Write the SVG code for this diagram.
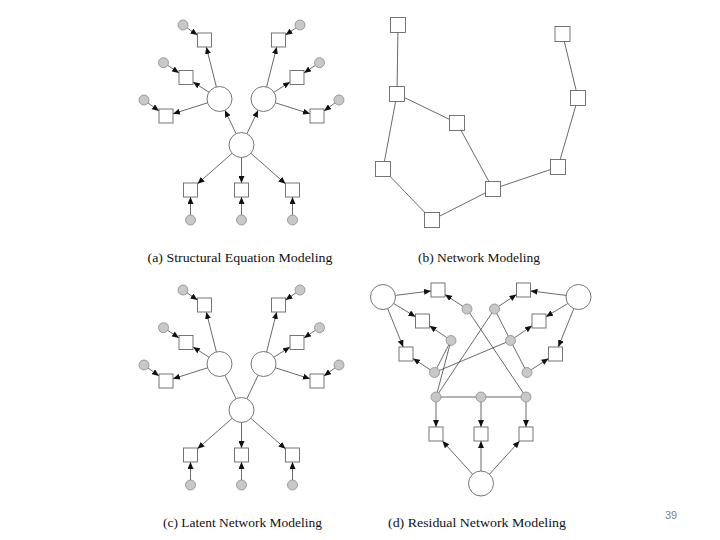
<svg xmlns="http://www.w3.org/2000/svg" width="720" height="540" viewBox="0 0 720 540">
<style>
.e{stroke:#444;stroke-width:0.8;fill:none}
.a{stroke:#444;stroke-width:0.8;fill:none;marker-end:url(#ah)}
.sq{fill:#fff;stroke:#666;stroke-width:0.9}
.lat{fill:#fff;stroke:#666;stroke-width:0.9}
.res{fill:#c8c8c8;stroke:#8a8a8a;stroke-width:0.8}
.cap{font-family:"Liberation Serif","DejaVu Serif",serif;font-size:12px;fill:#111}
</style>
<defs>
<marker id="ah" markerWidth="8" markerHeight="6" refX="7" refY="3" orient="auto" markerUnits="userSpaceOnUse">
<path d="M0,0 L7,3 L0,6 Z" fill="#111"/>
</marker>
</defs>
<rect width="720" height="540" fill="#fff"/>
<g id="connectors">
<g id="conn-a">
<line class="a" x1="187.1" y1="27.9" x2="197.5" y2="35.1"/>
<line class="a" x1="167.7" y1="65.4" x2="179" y2="72.9"/>
<line class="a" x1="148" y1="102.9" x2="159" y2="110.9"/>
<line class="a" x1="295.9" y1="27.9" x2="285.5" y2="35.1"/>
<line class="a" x1="315.3" y1="65.4" x2="304" y2="72.9"/>
<line class="a" x1="335" y1="102.9" x2="324" y2="110.9"/>
<line class="a" x1="216.4" y1="86.9" x2="206.3" y2="47"/>
<line class="a" x1="209" y1="92.2" x2="193" y2="82"/>
<line class="a" x1="207.6" y1="102.8" x2="173" y2="113.8"/>
<line class="a" x1="266.6" y1="86.9" x2="276.7" y2="47"/>
<line class="a" x1="274" y1="92.2" x2="290" y2="82"/>
<line class="a" x1="275.4" y1="102.8" x2="310" y2="113.8"/>
<line class="a" x1="236.1" y1="133.7" x2="224.9" y2="110.3"/>
<line class="a" x1="246.9" y1="133.7" x2="258.1" y2="110.3"/>
<line class="a" x1="232.1" y1="153.3" x2="197.5" y2="183.8"/>
<line class="a" x1="241.5" y1="157.5" x2="241.5" y2="183"/>
<line class="a" x1="250.9" y1="153.3" x2="285.5" y2="183.8"/>
<line class="a" x1="190.5" y1="215" x2="190.5" y2="197"/>
<line class="a" x1="241.5" y1="215" x2="241.5" y2="197"/>
<line class="a" x1="292.5" y1="215" x2="292.5" y2="197"/>
</g>
<g id="conn-b">
<line class="e" x1="398" y1="25" x2="397" y2="94"/>
<line class="e" x1="397" y1="94" x2="457" y2="123"/>
<line class="e" x1="397" y1="94" x2="383" y2="169"/>
<line class="e" x1="383" y1="169" x2="432" y2="220"/>
<line class="e" x1="432" y1="220" x2="493" y2="189"/>
<line class="e" x1="457" y1="123" x2="493" y2="189"/>
<line class="e" x1="493" y1="189" x2="558" y2="167"/>
<line class="e" x1="558" y1="167" x2="578" y2="98"/>
<line class="e" x1="578" y1="98" x2="562.5" y2="34"/>
</g>
<g id="conn-c">
<line class="a" x1="187.1" y1="292.9" x2="197.5" y2="300.1"/>
<line class="a" x1="167.7" y1="330.4" x2="179" y2="337.9"/>
<line class="a" x1="148" y1="367.9" x2="159" y2="375.9"/>
<line class="a" x1="295.9" y1="292.9" x2="285.5" y2="300.1"/>
<line class="a" x1="315.3" y1="330.4" x2="304" y2="337.9"/>
<line class="a" x1="335" y1="367.9" x2="324" y2="375.9"/>
<line class="a" x1="216.4" y1="351.9" x2="206.3" y2="312"/>
<line class="a" x1="209" y1="357.2" x2="193" y2="347"/>
<line class="a" x1="207.6" y1="367.8" x2="173" y2="378.8"/>
<line class="a" x1="266.6" y1="351.9" x2="276.7" y2="312"/>
<line class="a" x1="274" y1="357.2" x2="290" y2="347"/>
<line class="a" x1="275.4" y1="367.8" x2="310" y2="378.8"/>
<line class="e" x1="236.1" y1="398.7" x2="224.9" y2="375.3"/>
<line class="e" x1="246.9" y1="398.7" x2="258.1" y2="375.3"/>
<line class="a" x1="232.1" y1="418.3" x2="197.5" y2="448.8"/>
<line class="a" x1="241.5" y1="422.5" x2="241.5" y2="448"/>
<line class="a" x1="250.9" y1="418.3" x2="285.5" y2="448.8"/>
<line class="a" x1="190.5" y1="480" x2="190.5" y2="462"/>
<line class="a" x1="241.5" y1="480" x2="241.5" y2="462"/>
<line class="a" x1="292.5" y1="480" x2="292.5" y2="462"/>
</g>
<g id="conn-d">
<line class="a" x1="395.4" y1="295.4" x2="431" y2="290.9"/>
<line class="a" x1="393.7" y1="303.5" x2="415.5" y2="316.7"/>
<line class="a" x1="387.7" y1="308.6" x2="403.2" y2="347"/>
<line class="a" x1="566.1" y1="295.4" x2="530.5" y2="290.9"/>
<line class="a" x1="567.8" y1="303.5" x2="546" y2="316.7"/>
<line class="a" x1="573.8" y1="308.6" x2="558.3" y2="347"/>
<line class="a" x1="462.8" y1="306.3" x2="445" y2="294.6"/>
<line class="a" x1="498.7" y1="306.3" x2="516.5" y2="294.6"/>
<line class="a" x1="446.9" y1="337.7" x2="429.5" y2="325.8"/>
<line class="a" x1="514.6" y1="337.7" x2="532" y2="325.8"/>
<line class="a" x1="430.3" y1="369.8" x2="413" y2="358.5"/>
<line class="a" x1="531.2" y1="369.8" x2="548.5" y2="358.5"/>
<line class="a" x1="436" y1="402" x2="436" y2="427"/>
<line class="a" x1="481" y1="402" x2="481" y2="427"/>
<line class="a" x1="526" y1="402" x2="526" y2="427"/>
<line class="a" x1="472.6" y1="474.3" x2="442.4" y2="441"/>
<line class="a" x1="481" y1="471" x2="481" y2="441"/>
<line class="a" x1="489.4" y1="474.3" x2="519.6" y2="441"/>
<line class="e" x1="467" y1="309" x2="526" y2="397"/>
<line class="e" x1="494.5" y1="309" x2="436" y2="397"/>
<line class="e" x1="494.5" y1="309" x2="510.5" y2="340.5"/>
<line class="e" x1="510.5" y1="340.5" x2="527" y2="372.5"/>
<line class="e" x1="510.5" y1="340.5" x2="434.5" y2="372.5"/>
<line class="e" x1="451" y1="340.5" x2="434.5" y2="372.5"/>
<line class="e" x1="451" y1="340.5" x2="436" y2="397"/>
<line class="e" x1="436" y1="397" x2="481" y2="397"/>
<line class="e" x1="481" y1="397" x2="526" y2="397"/>
</g>
</g>
<g id="nodes-a">
<g id="a-L"><circle class="lat" cx="219.5" cy="99" r="12.5"/></g>
<g id="a-R"><circle class="lat" cx="263.5" cy="99" r="12.5"/></g>
<g id="a-C"><circle class="lat" cx="241.5" cy="145" r="12.5"/></g>
<g id="a-s1"><rect class="sq" x="197.5" y="33" width="14" height="14"/></g>
<g id="a-s2"><rect class="sq" x="179" y="70.5" width="14" height="14"/></g>
<g id="a-s3"><rect class="sq" x="159" y="109" width="14" height="14"/></g>
<g id="a-s4"><rect class="sq" x="271.5" y="33" width="14" height="14"/></g>
<g id="a-s5"><rect class="sq" x="290" y="70.5" width="14" height="14"/></g>
<g id="a-s6"><rect class="sq" x="310" y="109" width="14" height="14"/></g>
<g id="a-s7"><rect class="sq" x="183.5" y="183" width="14" height="14"/></g>
<g id="a-s8"><rect class="sq" x="234.5" y="183" width="14" height="14"/></g>
<g id="a-s9"><rect class="sq" x="285.5" y="183" width="14" height="14"/></g>
<g id="a-e1"><circle class="res" cx="183" cy="25" r="5"/></g>
<g id="a-e2"><circle class="res" cx="163.5" cy="62.7" r="5"/></g>
<g id="a-e3"><circle class="res" cx="144" cy="100" r="5"/></g>
<g id="a-e4"><circle class="res" cx="300" cy="25" r="5"/></g>
<g id="a-e5"><circle class="res" cx="319.5" cy="62.7" r="5"/></g>
<g id="a-e6"><circle class="res" cx="339" cy="100" r="5"/></g>
<g id="a-e7"><circle class="res" cx="190.5" cy="220" r="5"/></g>
<g id="a-e8"><circle class="res" cx="241.5" cy="220" r="5"/></g>
<g id="a-e9"><circle class="res" cx="292.5" cy="220" r="5"/></g>
</g>
<g id="nodes-b">
<g id="b-1"><rect class="sq" x="390.5" y="17.5" width="15" height="15"/></g>
<g id="b-2"><rect class="sq" x="389.5" y="86.5" width="15" height="15"/></g>
<g id="b-3"><rect class="sq" x="449.5" y="115.5" width="15" height="15"/></g>
<g id="b-4"><rect class="sq" x="375.5" y="161.5" width="15" height="15"/></g>
<g id="b-5"><rect class="sq" x="424.5" y="212.5" width="15" height="15"/></g>
<g id="b-6"><rect class="sq" x="485.5" y="181.5" width="15" height="15"/></g>
<g id="b-7"><rect class="sq" x="550.5" y="159.5" width="15" height="15"/></g>
<g id="b-8"><rect class="sq" x="570.5" y="90.5" width="15" height="15"/></g>
<g id="b-9"><rect class="sq" x="555" y="26.5" width="15" height="15"/></g>
</g>
<g id="nodes-c">
<g id="c-L"><circle class="lat" cx="219.5" cy="364" r="12.5"/></g>
<g id="c-R"><circle class="lat" cx="263.5" cy="364" r="12.5"/></g>
<g id="c-C"><circle class="lat" cx="241.5" cy="410" r="12.5"/></g>
<g id="c-s1"><rect class="sq" x="197.5" y="298" width="14" height="14"/></g>
<g id="c-s2"><rect class="sq" x="179" y="335.5" width="14" height="14"/></g>
<g id="c-s3"><rect class="sq" x="159" y="374" width="14" height="14"/></g>
<g id="c-s4"><rect class="sq" x="271.5" y="298" width="14" height="14"/></g>
<g id="c-s5"><rect class="sq" x="290" y="335.5" width="14" height="14"/></g>
<g id="c-s6"><rect class="sq" x="310" y="374" width="14" height="14"/></g>
<g id="c-s7"><rect class="sq" x="183.5" y="448" width="14" height="14"/></g>
<g id="c-s8"><rect class="sq" x="234.5" y="448" width="14" height="14"/></g>
<g id="c-s9"><rect class="sq" x="285.5" y="448" width="14" height="14"/></g>
<g id="c-e1"><circle class="res" cx="183" cy="290" r="5"/></g>
<g id="c-e2"><circle class="res" cx="163.5" cy="327.7" r="5"/></g>
<g id="c-e3"><circle class="res" cx="144" cy="365" r="5"/></g>
<g id="c-e4"><circle class="res" cx="300" cy="290" r="5"/></g>
<g id="c-e5"><circle class="res" cx="319.5" cy="327.7" r="5"/></g>
<g id="c-e6"><circle class="res" cx="339" cy="365" r="5"/></g>
<g id="c-e7"><circle class="res" cx="190.5" cy="485" r="5"/></g>
<g id="c-e8"><circle class="res" cx="241.5" cy="485" r="5"/></g>
<g id="c-e9"><circle class="res" cx="292.5" cy="485" r="5"/></g>
</g>
<g id="nodes-d">
<g id="d-L"><circle class="lat" cx="383" cy="297" r="12.5"/></g>
<g id="d-R"><circle class="lat" cx="578.5" cy="297" r="12.5"/></g>
<g id="d-B"><circle class="lat" cx="481" cy="483.5" r="12.5"/></g>
<g id="d-s1"><rect class="sq" x="431" y="283" width="14" height="14"/></g>
<g id="d-s2"><rect class="sq" x="516.5" y="283" width="14" height="14"/></g>
<g id="d-s3"><rect class="sq" x="415.5" y="314" width="14" height="14"/></g>
<g id="d-s4"><rect class="sq" x="532" y="314" width="14" height="14"/></g>
<g id="d-s5"><rect class="sq" x="399" y="347" width="14" height="14"/></g>
<g id="d-s6"><rect class="sq" x="548.5" y="347" width="14" height="14"/></g>
<g id="d-s7"><rect class="sq" x="429" y="427" width="14" height="14"/></g>
<g id="d-s8"><rect class="sq" x="474" y="427" width="14" height="14"/></g>
<g id="d-s9"><rect class="sq" x="519" y="427" width="14" height="14"/></g>
<g id="d-e1"><circle class="res" cx="467" cy="309" r="5"/></g>
<g id="d-e2"><circle class="res" cx="494.5" cy="309" r="5"/></g>
<g id="d-e3"><circle class="res" cx="451" cy="340.5" r="5"/></g>
<g id="d-e4"><circle class="res" cx="510.5" cy="340.5" r="5"/></g>
<g id="d-e5"><circle class="res" cx="434.5" cy="372.5" r="5"/></g>
<g id="d-e6"><circle class="res" cx="527" cy="372.5" r="5"/></g>
<g id="d-e7"><circle class="res" cx="436" cy="397" r="5"/></g>
<g id="d-e8"><circle class="res" cx="481" cy="397" r="5"/></g>
<g id="d-e9"><circle class="res" cx="526" cy="397" r="5"/></g>
</g>
<g id="captions">
<text class="cap" x="147.5" y="262" textLength="185" lengthAdjust="spacingAndGlyphs">(a) Structural Equation Modeling</text>
<text class="cap" x="418" y="262" textLength="122" lengthAdjust="spacingAndGlyphs">(b) Network Modeling</text>
<text class="cap" x="163" y="527" textLength="159" lengthAdjust="spacingAndGlyphs">(c) Latent Network Modeling</text>
<text class="cap" x="388" y="527" textLength="178" lengthAdjust="spacingAndGlyphs">(d) Residual Network Modeling</text>
<text x="665" y="519" font-family="'Liberation Sans',Arial,sans-serif" font-size="11" fill="#808080">39</text>
</g>
</svg>
